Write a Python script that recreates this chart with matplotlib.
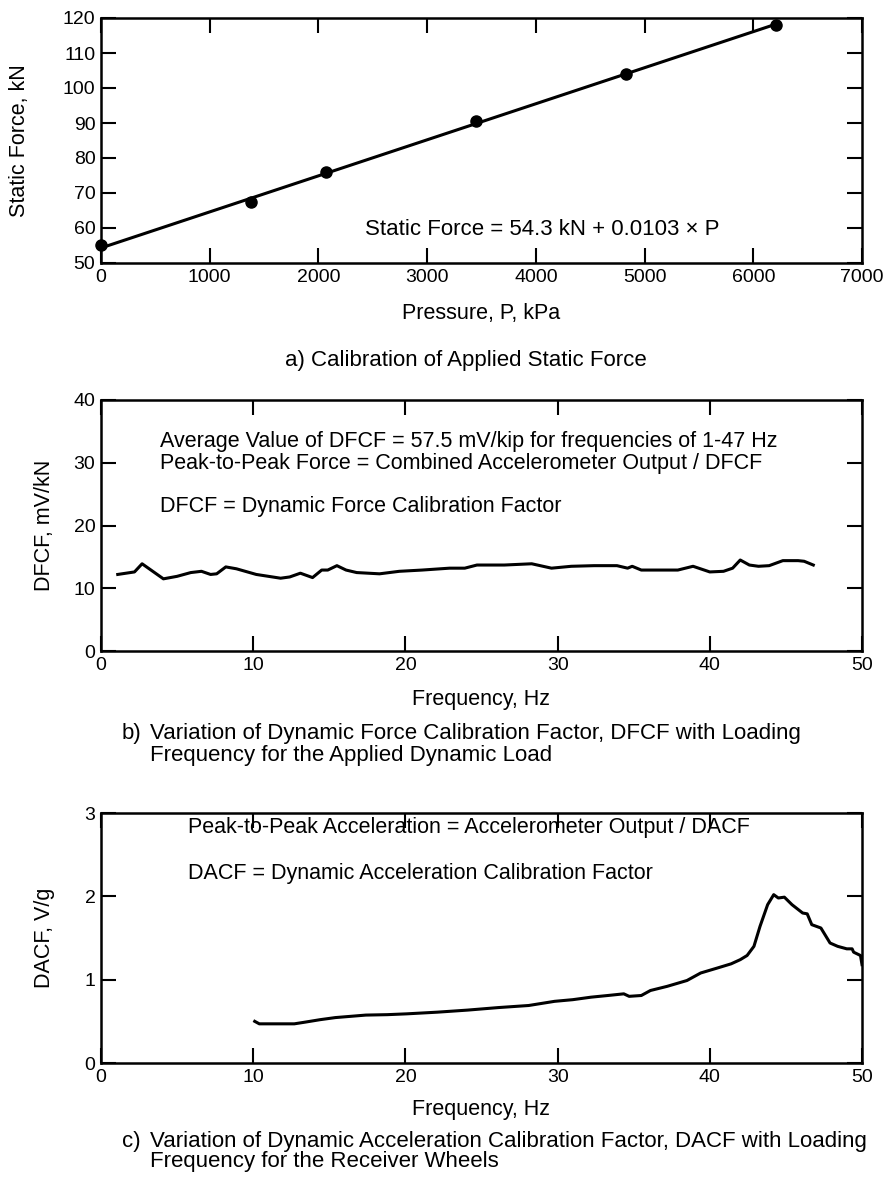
import matplotlib
matplotlib.use("Agg")
import matplotlib.pyplot as plt

plt.rcParams["font.family"] = ["Liberation Sans", "DejaVu Sans"]

# -- data ---------------------------------------------------------------------
# a) static force calibration
pressure_kpa = [0, 1379, 2068, 3447, 4826, 6205]
static_force_kn = [55.0, 67.3, 76.0, 90.6, 104.0, 118.0]
fit_intercept, fit_slope = 54.3, 0.0103
fit_p = [0, 6205]

# b) dynamic force calibration factor vs frequency
freq_b = [1.1, 2.2, 2.7, 3.4, 4.1, 5.0, 5.9, 6.6, 7.2, 7.6, 8.2, 8.9, 10.2, 11.8,
          12.4, 13.1, 13.9, 14.5, 14.9, 15.5, 16.1, 16.8, 18.3, 19.6, 21.1, 22.9,
          23.9, 24.7, 26.5, 28.3, 29.6, 30.9, 32.4, 33.9, 34.6, 34.9, 35.5, 37.9,
          38.9, 40.0, 40.9, 41.5, 42.0, 42.6, 43.2, 43.9, 44.8, 45.8, 46.2, 46.8]
dfcf = [12.2, 12.6, 13.9, 12.7, 11.5, 11.9, 12.5, 12.7, 12.2, 12.3, 13.4, 13.1, 12.2, 11.6,
        11.8, 12.4, 11.7, 12.9, 12.9, 13.6, 12.9, 12.5, 12.3, 12.7, 12.9, 13.2,
        13.2, 13.7, 13.7, 13.9, 13.2, 13.5, 13.6, 13.6, 13.2, 13.5, 12.9, 12.9,
        13.5, 12.6, 12.7, 13.2, 14.5, 13.7, 13.5, 13.6, 14.4, 14.4, 14.3, 13.7]

# c) dynamic acceleration calibration factor vs frequency
freq_c = [10.1, 10.4, 11.5, 12.7, 13.4, 14.4, 15.4, 16.4, 17.4, 18.8, 20.1, 22.1, 24.1,
          26.1, 28.1, 29.8, 31.0, 32.2, 33.3, 34.35, 34.7, 35.5, 36.1, 37.2, 38.5, 39.4,
          40.5, 41.4, 42.0, 42.45, 42.9, 43.3, 43.8, 44.2, 44.5, 44.9, 45.4, 46.1, 46.4,
          46.7, 47.3, 47.9, 48.4, 49.0, 49.35, 49.45, 49.9, 50.0]
dacf = [0.50, 0.47, 0.47, 0.47, 0.49, 0.52, 0.545, 0.56, 0.575, 0.58, 0.59, 0.61, 0.635,
        0.665, 0.69, 0.74, 0.76, 0.79, 0.81, 0.83, 0.80, 0.81, 0.87, 0.92, 0.99, 1.08,
        1.14, 1.19, 1.24, 1.29, 1.40, 1.64, 1.90, 2.02, 1.98, 1.99, 1.90, 1.80, 1.79,
        1.66, 1.62, 1.44, 1.40, 1.37, 1.37, 1.33, 1.29, 1.18]

W, H = 889, 1179
TICK_FS = 14
LABEL_FS = 15.5
NOTE_FS = 15.5
CAP_FS = 16


def style(ax):
    for s in ax.spines.values():
        s.set_linewidth(1.8)
    ax.tick_params(direction="in", length=11, width=1.5, top=True, right=True,
                   labelsize=TICK_FS, pad=4)


def px_axes(left, top, right, bottom):
    return [left / W, 1 - bottom / H, (right - left) / W, (bottom - top) / H]


fig = plt.figure(figsize=(W / 100, H / 100), dpi=100)

# -- a) ----------------------------------------------------------------------
ax = fig.add_axes(px_axes(101, 18, 862, 263))
ax.plot(fit_p, [fit_intercept + fit_slope * p for p in fit_p], color="black", lw=2.2)
ax.plot(pressure_kpa, static_force_kn, "o", color="black", ms=8, clip_on=False)
ax.set_xlim(0, 7000); ax.set_ylim(50, 120)
ax.set_xticks(range(0, 7001, 1000)); ax.set_yticks(range(50, 121, 10))
style(ax)
ax.text(2430, 59.5, "Static Force = 54.3 kN + 0.0103 \u00d7 P", fontsize=16, va="center")
ax.set_xlabel("Pressure, P, kPa", fontsize=LABEL_FS)
ax.set_ylabel("Static Force, kN", fontsize=LABEL_FS)
ax.xaxis.set_label_coords(0.5, -0.165)
ax.yaxis.set_label_coords(-0.093, 0.5)
fig.text(466 / W, 1 - 360 / H, "a) Calibration of Applied Static Force",
         fontsize=CAP_FS, ha="center", va="center")

# -- b) ----------------------------------------------------------------------
ax = fig.add_axes(px_axes(101, 400, 862, 651))
ax.plot(freq_b, dfcf, color="black", lw=2.2)
ax.set_xlim(0, 50); ax.set_ylim(0, 40)
ax.set_xticks(range(0, 51, 10)); ax.set_yticks(range(0, 41, 10))
style(ax)
ax.text(3.9, 33.4, "Average Value of DFCF = 57.5 mV/kip for frequencies of 1-47 Hz",
        fontsize=NOTE_FS, va="center")
ax.text(3.9, 29.9, "Peak-to-Peak Force = Combined Accelerometer Output / DFCF",
        fontsize=NOTE_FS, va="center")
ax.text(3.9, 23.0, "DFCF = Dynamic Force Calibration Factor", fontsize=NOTE_FS, va="center")
ax.set_xlabel("Frequency, Hz", fontsize=LABEL_FS)
ax.set_ylabel("DFCF, mV/kN", fontsize=LABEL_FS)
ax.xaxis.set_label_coords(0.5, -0.15)
ax.yaxis.set_label_coords(-0.06, 0.5)
fig.text(122 / W, 1 - 734 / H, "b)", fontsize=CAP_FS, va="center")
fig.text(150 / W, 1 - 734 / H,
         "Variation of Dynamic Force Calibration Factor, DFCF with Loading",
         fontsize=CAP_FS, va="center")
fig.text(150 / W, 1 - 756 / H, "Frequency for the Applied Dynamic Load",
         fontsize=CAP_FS, va="center")

# -- c) ----------------------------------------------------------------------
ax = fig.add_axes(px_axes(101, 813, 862, 1063))
ax.plot(freq_c, dacf, color="black", lw=2.2)
ax.set_xlim(0, 50); ax.set_ylim(0, 3)
ax.set_xticks(range(0, 51, 10)); ax.set_yticks(range(0, 4))
style(ax)
ax.text(5.7, 2.82, "Peak-to-Peak Acceleration = Accelerometer Output / DACF",
        fontsize=NOTE_FS, va="center")
ax.text(5.7, 2.27, "DACF = Dynamic Acceleration Calibration Factor",
        fontsize=NOTE_FS, va="center")
ax.set_xlabel("Frequency, Hz", fontsize=LABEL_FS)
ax.set_ylabel("DACF, V/g", fontsize=LABEL_FS)
ax.xaxis.set_label_coords(0.5, -0.145)
ax.yaxis.set_label_coords(-0.06, 0.5)
fig.text(122 / W, 1 - 1141 / H, "c)", fontsize=CAP_FS, va="center")
fig.text(150 / W, 1 - 1141 / H,
         "Variation of Dynamic Acceleration Calibration Factor, DACF with Loading",
         fontsize=CAP_FS, va="center")
fig.text(150 / W, 1 - 1162 / H, "Frequency for the Receiver Wheels",
         fontsize=CAP_FS, va="center")

fig.savefig("out.png", dpi=100)
